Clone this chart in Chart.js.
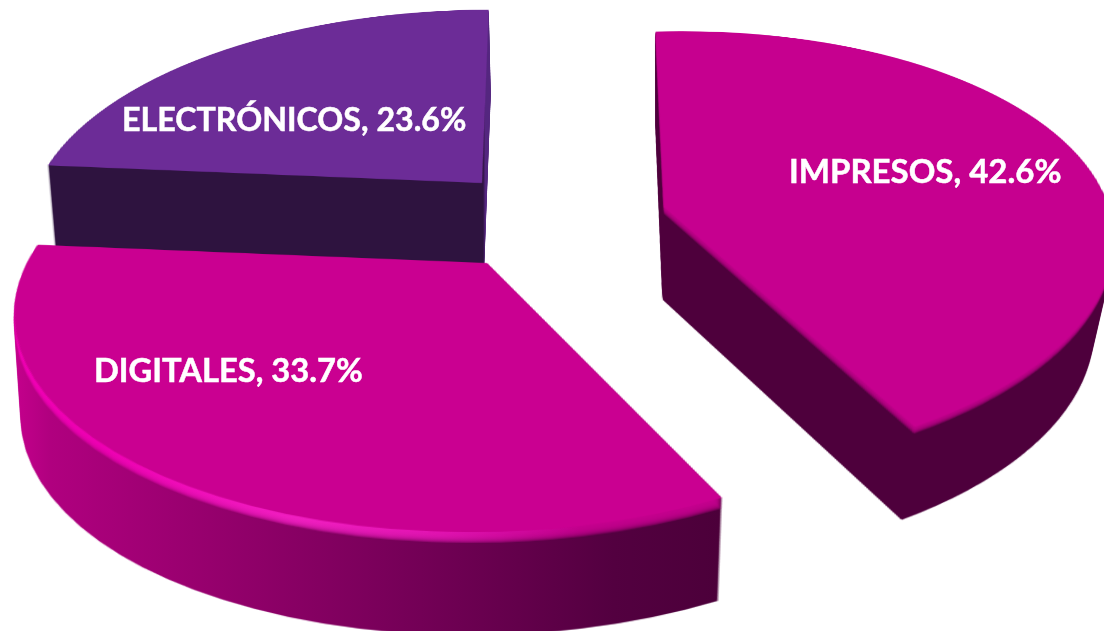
<!DOCTYPE html>
<html>
<head>
<meta charset="utf-8">
<title>Pastel 3D</title>
<script src="https://cdn.jsdelivr.net/npm/chart.js@4/dist/chart.umd.min.js"></script>
<style>
    html, body { margin: 0; padding: 0; background: #fff; overflow: hidden; }
    canvas { display: block; }
</style>
</head>
<body>
<canvas id="pie" width="1104" height="631"></canvas>
<script>
// Data
const categories = ['IMPRESOS', 'DIGITALES', 'ELECTRÓNICOS'];
const shares = [42.6, 33.7, 23.6];
const faceColors = ['#C6008F', '#CA0091', '#6C2C97'];

// Camera: every slice is the same flat sector seen in perspective
const camera = { width: 460, height: 211, tilt: 0.2 };

// Where each slice sits once exploded, and how its side is painted
const sliceViews = [
    { x: 664, y: 207, shear: -21, turn: -4, widthScale: 0.967, heightScale: 1, depth: 93, driftX: -1, shrink: 0.955,
      wall: [[0, '#4E003C'], [1, '#4E003C']], rim: [[0, '#C6008F'], [1, '#C6008F']], rimSize: 7 },
    { x: 487, y: 263, shear: -14, turn: 0, widthScale: 1, heightScale: 1.02, depth: 103, driftX: 0, shrink: 0.985,
      wall: [[0, '#C4008C'], [0.05, '#B0007F'], [0.25, '#99006F'], [0.55, '#760058'], [0.85, '#530040'], [1, '#4C003A']],
      rim: [[0, '#F400B8'], [0.12, '#F000B4'], [0.4, '#F420C4'], [0.6, '#E414B4'], [0.8, '#C6008F'], [1, '#C6008F']], rimSize: 11 },
    { x: 482, y: 183, shear: -8, turn: 0, widthScale: 0.965, heightScale: 0.985, depth: 84, driftX: 2, shrink: 0.988,
      wall: [[0, '#2E133F'], [0.98, '#2E133F'], [0.985, '#54267F'], [1, '#54267F']], rim: null, rimSize: 0 }
];
const wallSpans = [[660, 1104], [15, 720], [45, 492]];
const paintOrder = [2, 0, 1];

const labelSpots = [[789, 183], [94, 382], [122, 131]];
const labelSizes = [33, 32.7, 32.2];

function newLayer(w, h) {
    const c = document.createElement('canvas');
    c.width = w;
    c.height = h;
    return c;
}

// Lays the flat sector on the canvas row by row, rows nearer the viewer get wider
function project(target, flat, arc, view, dropY, scale) {
    const w = flat.width, h = flat.height;
    const r = arc.outerRadius;
    const f = view.depth ? dropY / view.depth : 0;
    const originX = view.x + view.driftX * f;
    const originY = view.y + dropY;
    const A = camera.width * view.widthScale * scale;
    const B = camera.height * view.heightScale;
    const rowV = row => { const t = row - originY; return t / (B + camera.tilt * t); };
    for (let row = 0; row < h; row++) {
        const v0 = rowV(row), v1 = rowV(row + 1);
        if (v1 < -1 || v0 > 1) continue;
        const vMid = (v0 + v1) / 2;
        const wDiv = 1 - camera.tilt * vMid;
        const left = originX + (A * (-arc.x / r) + view.shear * vMid) / wDiv;
        const width = A * (w / r) / wDiv;
        target.drawImage(flat, 0, arc.y + v0 * r, w, (v1 - v0) * r, left, row, width, 1);
    }
}

function tint(ctx, stops, span) {
    const g = ctx.createLinearGradient(span[0], 0, span[1], 0);
    stops.forEach(s => g.addColorStop(s[0], s[1]));
    ctx.globalCompositeOperation = 'source-in';
    ctx.globalAlpha = 1;
    ctx.fillStyle = g;
    ctx.fillRect(0, 0, ctx.canvas.width, ctx.canvas.height);
    ctx.globalCompositeOperation = 'source-over';
}

const piePainter = {
    id: 'piePainter',
    beforeDatasetsDraw(chart) {
        const ctx = chart.ctx;
        const w = chart.width, h = chart.height;
        const arcs = chart.getDatasetMeta(0).data;

        paintOrder.forEach(i => {
            const view = sliceViews[i];
            const arc = arcs[i];
            const flat = newLayer(w, h);
            const flatCtx = flat.getContext('2d');
            flatCtx.translate(arc.x, arc.y);
            flatCtx.rotate(view.turn * Math.PI / 180);
            flatCtx.translate(-arc.x, -arc.y);
            arc.draw(flatCtx);

            // side of the slice
            const wall = newLayer(w, h).getContext('2d');
            for (let d = view.depth; d >= 1; d--) {
                project(wall, flat, arc, view, d, 1 - (1 - view.shrink) * d / view.depth);
            }
            tint(wall, view.wall, wallSpans[i]);
            ctx.drawImage(wall.canvas, 0, 0);

            // soft edge under the face
            if (view.rim) {
                const rim = newLayer(w, h).getContext('2d');
                rim.globalAlpha = 0.3;
                for (let d = view.rimSize; d >= 1; d--) {
                    project(rim, flat, arc, view, d, 1 - (1 - view.shrink) * d / view.depth);
                }
                tint(rim, view.rim, wallSpans[i]);
                ctx.drawImage(rim.canvas, 0, 0);
            }

            project(ctx, flat, arc, view, 0, 1);
        });
        return false;
    },
    afterDraw(chart) {
        const ctx = chart.ctx;
        ctx.save();
        ctx.fillStyle = '#fff';
        ctx.strokeStyle = '#fff';
        ctx.lineWidth = 0.5;
        ctx.textAlign = 'left';
        ctx.textBaseline = 'alphabetic';
        categories.forEach((name, i) => {
            const text = name + ', ' + shares[i].toFixed(1) + '%';
            ctx.font = 'bold ' + labelSizes[i] + 'px Lato, "Open Sans", sans-serif';
            ctx.fillText(text, labelSpots[i][0], labelSpots[i][1]);
            ctx.strokeText(text, labelSpots[i][0], labelSpots[i][1]);
        });
        ctx.restore();
    }
};

new Chart(document.getElementById('pie'), {
    type: 'pie',
    data: {
        labels: categories,
        datasets: [{ data: shares, backgroundColor: faceColors, borderWidth: 0 }]
    },
    options: {
        responsive: false,
        animation: false,
        plugins: { legend: { display: false }, tooltip: { enabled: false } }
    },
    plugins: [piePainter]
});
</script>
</body>
</html>
